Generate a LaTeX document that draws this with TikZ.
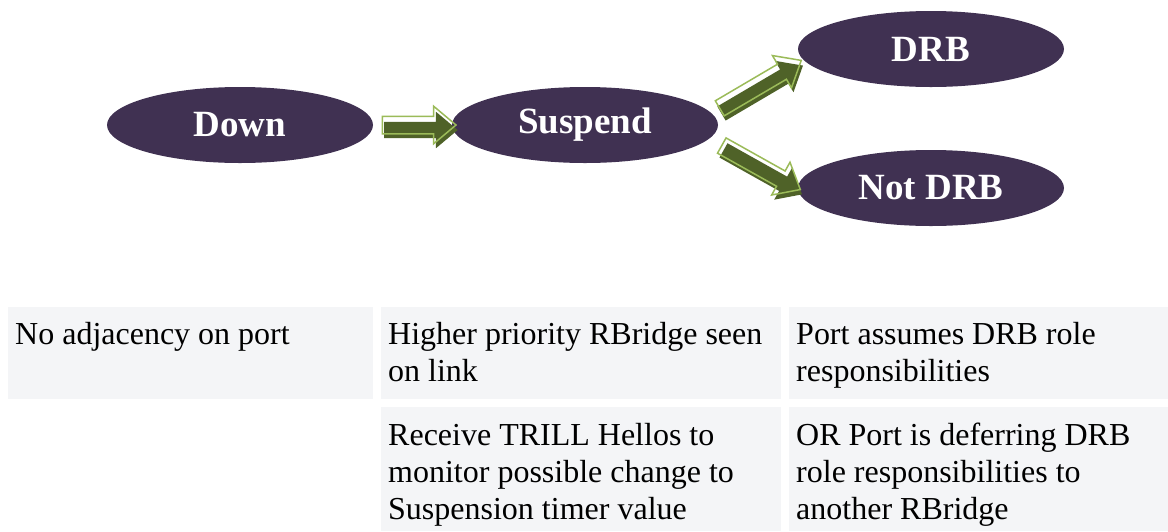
\documentclass[tikz,border=0pt]{standalone}
\usepackage{fontspec}
\setmainfont{LiberationSerif}[Extension=.ttf,UprightFont=*-Regular,BoldFont=*-Bold,ItalicFont=*-Italic,BoldItalicFont=*-BoldItalic]
\usetikzlibrary{shapes.geometric,shapes.arrows,calc}
\definecolor{stateFill}{HTML}{403152}
\definecolor{arrDark}{HTML}{4F6228}
\definecolor{arrLight}{HTML}{9BBB59}
\definecolor{cellFill}{HTML}{F4F5F7}
\tikzset{
  state/.style={ellipse, fill=stateFill, text=white, inner sep=0pt,
    minimum width=266pt, minimum height=76pt,
    font=\fontsize{37}{44}\selectfont\bfseries},
  arrowbase/.style={single arrow, inner xsep=0pt, inner ysep=8pt,
    single arrow head extend=10pt, single arrow tip angle=80},
  arrowshadow/.style={arrowbase, fill=arrDark, draw=none},
  arrowoutline/.style={arrowbase, draw=arrLight, line width=1.5pt, fill=none},
  cell/.style={fill=cellFill, draw=none, anchor=north west, inner sep=0pt},
  celltext/.style={anchor=north west, inner sep=0pt, align=left,
    font=\fontsize{32}{37}\selectfont},
}
\newcommand\blockarrow[2]{%
  \path let \p1=(#1), \p2=(#2),
    \n1={atan2(\y2-\y1,\x2-\x1)}, \n2={veclen(\x2-\x1,\y2-\y1)} in
    node[arrowshadow, rotate=\n1, minimum height=\n2]
      at ($(\p1)!0.5!(\p2)+(2pt,-5pt)$) {}
    node[arrowoutline, rotate=\n1, minimum height=\n2]
      at ($(\p1)!0.5!(\p2)$) {};
}
\begin{document}
\begin{tikzpicture}[x=1pt,y=-1pt]
\useasboundingbox (0,0) rectangle (1168,531);
\fill[white] (0,0) rectangle (1168,531);

% states
\node[state] (down) at (240,125) {Down};
\node[state] (suspend) at (585,125) {Suspend};
\node[state] (drb) at (931,49) {DRB};
\node[state] (notdrb) at (931,188) {Not DRB};

% arrow end points
\coordinate (a1s) at ($(down.east)+(4,0)$);
\coordinate (a1e) at ($(suspend.west)+(-1,0)$);
\coordinate (a2s) at ($(suspend.east)+(-3,-14)$);
\coordinate (a2e) at ($(drb.west)+(-1,14)$);
\coordinate (a3s) at ($(suspend.east)+(-1,18)$);
\coordinate (a3e) at ($(notdrb.west)+(-2,-1)$);

\blockarrow{a1s}{a1e}
\blockarrow{a2s}{a2e}
\blockarrow{a3s}{a3e}

% table cells
\node[cell, minimum width=365pt, minimum height=92pt] (c11) at (8,307) {};
\node[cell, minimum width=400pt, minimum height=92pt] (c12) at (381,307) {};
\node[cell, minimum width=379pt, minimum height=92pt] (c13) at (789,307) {};
\node[cell, minimum width=400pt, minimum height=124pt] (c22) at (381,407) {};
\node[cell, minimum width=379pt, minimum height=124pt] (c23) at (789,407) {};

\node[celltext] (t11) at ($(c11.north west)+(7,15)$) {No adjacency on port};
\node[celltext] (t12) at ($(c12.north west)+(7,15)$) {Higher priority RBridge seen\\on link};
\node[celltext] (t13) at ($(c13.north west)+(7,15)$) {Port assumes DRB role\\responsibilities};
\node[celltext] (t22) at ($(c22.north west)+(7,16)$) {Receive TRILL Hellos to\\monitor possible change to\\Suspension timer value};
\node[celltext] (t23) at ($(c23.north west)+(7,16)$) {OR Port is deferring DRB\\role responsibilities to\\another RBridge};
\end{tikzpicture}
\end{document}
